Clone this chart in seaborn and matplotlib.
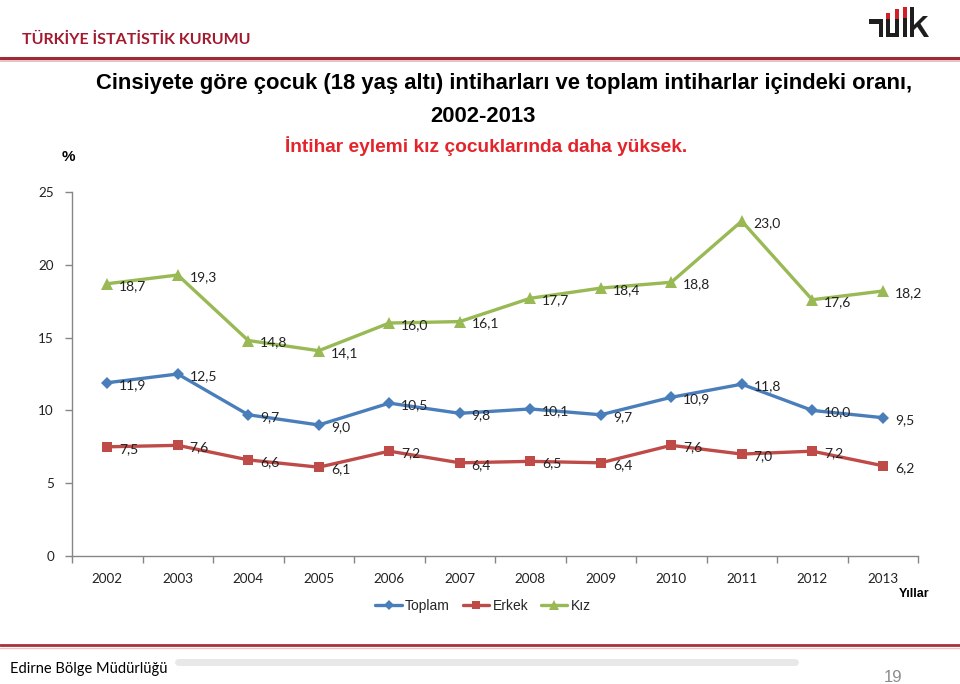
import matplotlib
matplotlib.use("Agg")
import matplotlib.pyplot as plt
import seaborn as sns
import pandas as pd
from matplotlib.patches import Rectangle, Polygon
from matplotlib.lines import Line2D

years = [2002, 2003, 2004, 2005, 2006, 2007, 2008, 2009, 2010, 2011, 2012, 2013]
toplam = [11.9, 12.5, 9.7, 9.0, 10.5, 9.8, 10.1, 9.7, 10.9, 11.8, 10.0, 9.5]
erkek = [7.5, 7.6, 6.6, 6.1, 7.2, 6.4, 6.5, 6.4, 7.6, 7.0, 7.2, 6.2]
kiz = [18.7, 19.3, 14.8, 14.1, 16.0, 16.1, 17.7, 18.4, 18.8, 23.0, 17.6, 18.2]
series_names = ["Toplam", "Erkek", "Kız"]
y_ticks = [0, 5, 10, 15, 20, 25]

colors = {"Toplam": "#4A7EBB", "Erkek": "#BE4B48", "Kız": "#98B954"}
markers = {"Toplam": "D", "Erkek": "s", "Kız": "^"}
msizes = {"Toplam": 6.5, "Erkek": 7.5, "Kız": 8.5}

df = pd.DataFrame({
    "Yıl": years * 3,
    "Değer": toplam + erkek + kiz,
    "Seri": [series_names[0]] * 12 + [series_names[1]] * 12 + [series_names[2]] * 12,
})

sns.set_theme(style="white")
plt.rcParams["font.family"] = ["Lato", "DejaVu Sans"]

W, H = 960, 684
fig = plt.figure(figsize=(9.6, 6.84), dpi=100)
fig.patch.set_facecolor("white")

def fx(x):
    return x / W

def fy(y):
    return 1 - y / H

ax = fig.add_axes([fx(72), fy(556), fx(918) - fx(72), fy(192) - fy(556)])

sns.lineplot(data=df, x="Yıl", y="Değer", hue="Seri", style="Seri",
             palette=colors, markers=markers, dashes=False, linewidth=2.4,
             markeredgewidth=0, ax=ax, legend=False)
for line, name in zip(ax.get_lines(), series_names):
    line.set_markersize(msizes[name])

for vals in (toplam, erkek, kiz):
    for x, v in zip(years, vals):
        ax.annotate(f"{v:.1f}".replace(".", ","), (x, v), xytext=(12, -2),
                    textcoords="offset pixels", ha="left", va="center",
                    fontsize=10, color="#222222")

ax.set_xlim(years[0] - 0.5, years[-1] + 0.5)
ax.set_ylim(0, 25)
ax.set_yticks(y_ticks)
ax.set_yticklabels([str(t) for t in y_ticks])
ax.set_xticks(years)
ax.set_xticklabels([str(y) for y in years])
ax.set_xticks([y - 0.5 for y in years] + [years[-1] + 0.5], minor=True)
ax.tick_params(axis="x", which="major", length=0, pad=12, labelsize=9.7, colors="#222222")
ax.tick_params(axis="x", which="minor", length=5, width=1, color="#868686", direction="out", bottom=True)
ax.tick_params(axis="y", which="major", length=5, width=1, color="#868686", direction="out",
               left=True, pad=8, labelsize=9.7, labelcolor="#222222")
ax.set_xlabel("")
ax.set_ylabel("")
for s in ["top", "right"]:
    ax.spines[s].set_visible(False)
for s in ["left", "bottom"]:
    ax.spines[s].set_color("#868686")
    ax.spines[s].set_linewidth(1)
ax.grid(False)

# Legend
handles = [Line2D([0], [0], color=colors[n], marker=markers[n], markersize=msizes[n] * 0.85,
                  markeredgewidth=0, linewidth=2.4) for n in series_names]
fig.legend(handles, series_names, loc="center", bbox_to_anchor=(fx(483), fy(606)), ncol=3,
           frameon=False, prop={"family": "Liberation Sans", "size": 10},
           handlelength=1.9, columnspacing=0.9, handletextpad=0.25)

# Titles
fig.text(fx(504), fy(83), "Cinsiyete göre çocuk (18 yaş altı) intiharları ve toplam intiharlar içindeki oranı,",
         ha="center", va="center", fontsize=15.8, fontweight="bold", family="Liberation Sans", color="black")
fig.text(fx(483), fy(117), "2002-2013", ha="center", va="center", fontsize=15.8, fontweight="bold",
         family="Liberation Sans", color="black")
fig.text(fx(486), fy(146), "İntihar eylemi kız çocuklarında daha yüksek.", ha="center", va="center",
         fontsize=13.8, fontweight="bold", family="Liberation Sans", color="#E3242B")
fig.text(fx(68), fy(157), "%", ha="center", va="center", fontsize=11, fontweight="bold",
         family="Liberation Sans", color="black")
fig.text(fx(914), fy(594), "Yıllar", ha="center", va="center", fontsize=9, fontweight="bold",
         family="Liberation Sans", color="black")

# Header
fig.text(fx(22), fy(40), "TÜRKİYE İSTATİSTİK KURUMU", ha="left", va="center", fontsize=11.5,
         fontweight="bold", family="Lato", color="#A3192E")
fig.add_artist(Line2D([0, 1], [fy(57.5), fy(57.5)], transform=fig.transFigure, color="#9E2A35", linewidth=2.2))
fig.add_artist(Line2D([0, 1], [fy(61), fy(61)], transform=fig.transFigure, color="#E2B8BB", linewidth=1.2))

# Logo
def rect(x0, y0, x1, y1, c):
    fig.add_artist(Rectangle((fx(x0), fy(y1)), fx(x1) - fx(x0), fy(y0) - fy(y1),
                             transform=fig.transFigure, color=c, linewidth=0))

dark = "#1E1E1E"
red = "#D21F26"
rect(869, 19, 883, 24, dark)
rect(879, 19, 883, 37, dark)
rect(886, 19, 890, 37, dark)
rect(886, 13, 890, 19, red)
rect(895, 19, 899, 37, dark)
rect(895, 9, 899, 19, red)
rect(886, 33, 899, 37, dark)
rect(903, 18, 907, 37, dark)
rect(903, 7, 907, 18, red)
rect(910, 7, 914, 37, dark)
fig.add_artist(Polygon([(fx(914), fy(25)), (fx(923), fy(16)), (fx(928), fy(16)), (fx(914), fy(30))],
                       closed=True, transform=fig.transFigure, color=dark, linewidth=0))
fig.add_artist(Polygon([(fx(916), fy(25)), (fx(920), fy(23)), (fx(929), fy(37)), (fx(924), fy(37))],
                       closed=True, transform=fig.transFigure, color=dark, linewidth=0))

# Footer
fig.add_artist(Line2D([0, 1], [fy(645), fy(645)], transform=fig.transFigure, color="#A8323B", linewidth=2))
fig.add_artist(Line2D([0, 1], [fy(647.5), fy(647.5)], transform=fig.transFigure, color="#E8C4C6", linewidth=1))
fig.add_artist(Line2D([fx(178), fx(795)], [fy(662), fy(662)], transform=fig.transFigure,
                      color="#E8E8E8", linewidth=5, solid_capstyle="round"))
fig.text(fx(10), fy(669), "Edirne Bölge Müdürlüğü", ha="left", va="center", fontsize=10.5,
         family="Lato", color="black")
fig.text(fx(893), fy(677), "19", ha="center", va="center", fontsize=12, family="Liberation Sans",
         color="#8C8C8C")

fig.savefig("out.png", dpi=100, facecolor="white")
